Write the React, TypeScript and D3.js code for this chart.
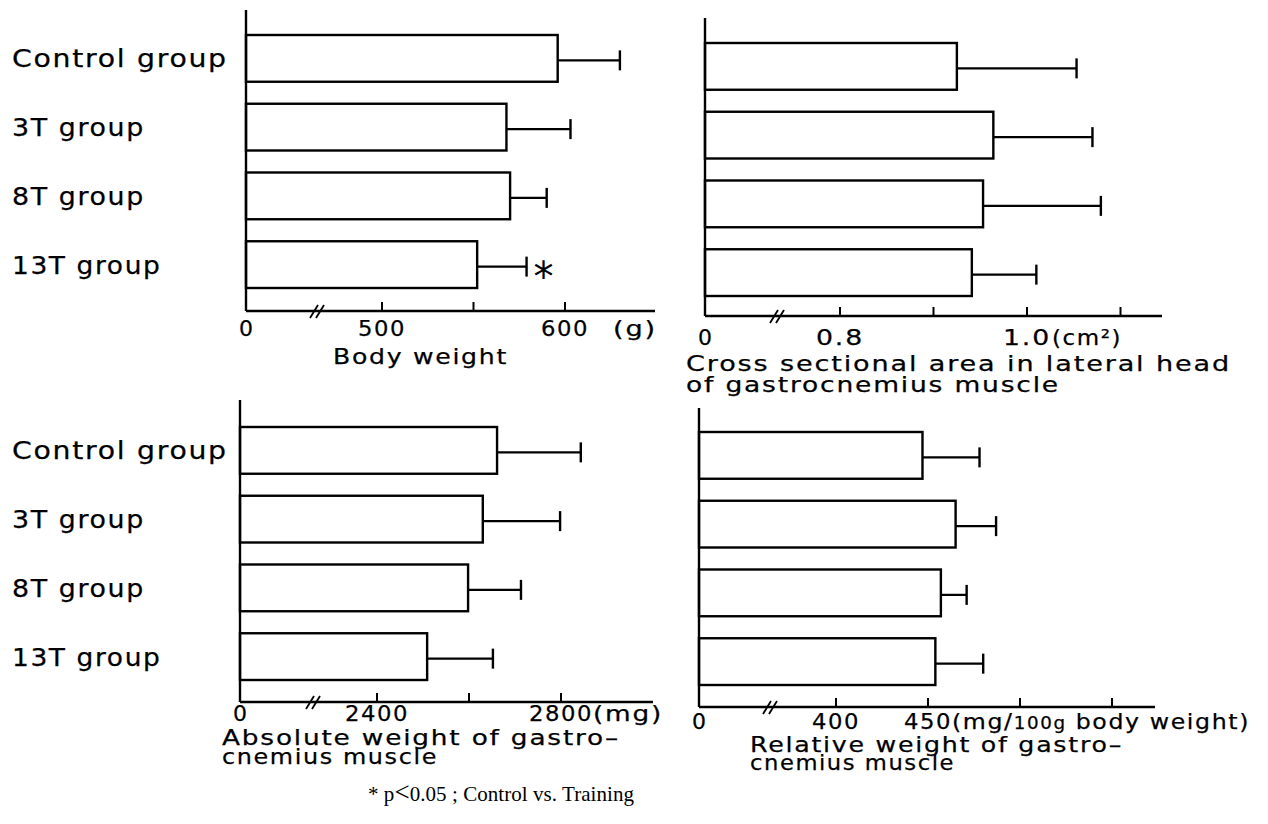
import React, { useRef, useEffect } from 'react'
import * as d3 from 'd3'

// groups shown on the vertical axis
const groups = ['Control group', '3T group', '8T group', '13T group']

// body weight (g)
const bodyWeightMean = [596, 568, 570, 552]
const bodyWeightSd = [34, 35, 20, 27]
const bodyWeightSignif = [false, false, false, true]
const bodyWeightTicks = [500, 550, 600]
const bodyWeightTickLabels = ['500', '', '600']

// cross sectional area, lateral head of gastrocnemius (cm2)
const csaMean = [0.925, 0.964, 0.953, 0.941]
const csaSd = [0.128, 0.106, 0.126, 0.069]
const csaTicks = [0.8, 0.9, 1.0, 1.1]
const csaTickLabels = ['0.8', '', '1.0', '']

// absolute weight of gastrocnemius (mg)
const absWeightMean = [2661, 2630, 2598, 2509]
const absWeightSd = [182, 168, 115, 143]
const absWeightTicks = [2400, 2600, 2800]
const absWeightTickLabels = ['2400', '', '2800']

// relative weight of gastrocnemius (mg/100g body weight)
const relWeightMean = [447, 465, 457, 454]
const relWeightSd = [31, 22, 14, 26]
const relWeightTicks = [400, 450, 500, 550]
const relWeightTickLabels = ['400', '450', '', '']

const SANS = '"DejaVu Sans", "Liberation Sans", Arial, sans-serif'
const SERIF = '"Liberation Serif", "Times New Roman", serif'

const panels = [
  {
    mean: bodyWeightMean, sd: bodyWeightSd, signif: bodyWeightSignif,
    ticks: bodyWeightTicks, tickLabels: bodyWeightTickLabels,
    domain: [500, 600], range: [382, 565],
    axisX: 246, axisTop: 10, axisY: 311, axisEnd: 655, breakX: 317,
    band: [24, 299], showGroups: true, tickLabelY: 336,
    unit: { text: '(g)', x: 613, w: 44 },
    title: [{ text: 'Body weight', x: 333, y: 364, w: 175 }],
  },
  {
    mean: csaMean, sd: csaSd, signif: null,
    ticks: csaTicks, tickLabels: csaTickLabels,
    domain: [0.8, 1.0], range: [840, 1027],
    axisX: 705, axisTop: 18, axisY: 316, axisEnd: 1162, breakX: 777,
    band: [32, 307], showGroups: false, tickLabelY: 345,
    unit: { text: '(cm²)', x: 1052, w: 70 },
    title: [
      { text: 'Cross sectional area in lateral head', x: 686, y: 371, w: 545 },
      { text: 'of gastrocnemius muscle', x: 686, y: 392, w: 374 },
    ],
  },
  {
    mean: absWeightMean, sd: absWeightSd, signif: null,
    ticks: absWeightTicks, tickLabels: absWeightTickLabels,
    domain: [2400, 2800], range: [377, 561],
    axisX: 240, axisTop: 400, axisY: 702, axisEnd: 653, breakX: 313,
    band: [416, 691], showGroups: true, tickLabelY: 721,
    unit: { text: '(mg)', x: 593, w: 70 },
    title: [
      { text: 'Absolute weight of gastro–', x: 222, y: 745, w: 398 },
      { text: 'cnemius muscle', x: 222, y: 764, w: 216 },
    ],
  },
  {
    mean: relWeightMean, sd: relWeightSd, signif: null,
    ticks: relWeightTicks, tickLabels: relWeightTickLabels,
    domain: [400, 450], range: [836, 928],
    axisX: 699, axisTop: 408, axisY: 707, axisEnd: 1155, breakX: 770,
    band: [421, 696], showGroups: false, tickLabelY: 729,
    unit: { text: '(mg/100g body weight)', x: 952, w: 298, small: '100g' },
    title: [
      { text: 'Relative weight of gastro–', x: 750, y: 752, w: 373 },
      { text: 'cnemius muscle', x: 750, y: 770, w: 205 },
    ],
  },
]

// wide, tracked lettering like the typeset original
const label = (sel, size, width) =>
  sel
    .attr('font-family', SANS)
    .attr('font-size', size)
    .attr('letter-spacing', 1.5)
    .attr('stroke', 'black')
    .attr('stroke-width', 0.25)
    .attr('textLength', width)
    .attr('lengthAdjust', 'spacingAndGlyphs')

const App = () => {
  const svgRef = useRef(null)

  useEffect(() => {
    const svg = d3.select(svgRef.current)
    svg.selectAll('*').remove()

    panels.forEach((p) => {
      const g = svg.append('g')
      const x = d3.scaleLinear().domain(p.domain).range(p.range)
      const y = d3
        .scaleBand()
        .domain(groups)
        .range(p.band)
        .paddingInner(0.32)
        .paddingOuter(0.16)

      // bars
      g.selectAll('rect.bar')
        .data(groups)
        .enter()
        .append('rect')
        .attr('x', p.axisX)
        .attr('y', (d) => y(d))
        .attr('width', (d, i) => x(p.mean[i]) - p.axisX)
        .attr('height', y.bandwidth())
        .attr('fill', 'white')
        .attr('stroke', 'black')
        .attr('stroke-width', 2.4)

      // error bars
      groups.forEach((d, i) => {
        const cy = y(d) + y.bandwidth() / 2 + 2
        const x0 = x(p.mean[i])
        const x1 = x(p.mean[i] + p.sd[i])
        g.append('line')
          .attr('x1', x0).attr('x2', x1).attr('y1', cy).attr('y2', cy)
          .attr('stroke', 'black').attr('stroke-width', 2.2)
        g.append('line')
          .attr('x1', x1).attr('x2', x1).attr('y1', cy - 10).attr('y2', cy + 10)
          .attr('stroke', 'black').attr('stroke-width', 2.4)
        if (p.signif && p.signif[i]) {
          g.append('text')
            .attr('x', x1 + 7)
            .attr('y', cy + 24)
            .attr('font-family', SANS)
            .attr('font-size', 40)
            .text('*')
        }
      })

      // axes
      g.append('line')
        .attr('x1', p.axisX).attr('x2', p.axisX)
        .attr('y1', p.axisTop).attr('y2', p.axisY)
        .attr('stroke', 'black').attr('stroke-width', 2.4)
      g.append('line')
        .attr('x1', p.axisX).attr('x2', p.axisEnd)
        .attr('y1', p.axisY).attr('y2', p.axisY)
        .attr('stroke', 'black').attr('stroke-width', 2.4)

      g.selectAll('line.tick')
        .data(p.ticks)
        .enter()
        .append('line')
        .attr('x1', (d) => x(d)).attr('x2', (d) => x(d))
        .attr('y1', p.axisY - 9).attr('y2', p.axisY)
        .attr('stroke', 'black').attr('stroke-width', 2)

      // axis break
      ;[0, 6].forEach((o) => {
        g.append('line')
          .attr('x1', p.breakX - 7 + o).attr('y1', p.axisY + 7)
          .attr('x2', p.breakX + 1 + o).attr('y2', p.axisY - 6)
          .attr('stroke', 'black').attr('stroke-width', 1.8)
      })

      // tick labels
      g.append('text')
        .attr('x', p.axisX).attr('y', p.tickLabelY)
        .attr('text-anchor', 'middle')
        .attr('font-family', SANS)
        .attr('font-size', 22)
        .attr('stroke', 'black')
        .attr('stroke-width', 0.25)
        .text('0')
      p.ticks.forEach((t, i) => {
        const s = p.tickLabels[i]
        if (!s) return
        g.append('text')
          .attr('x', x(t) - (s.length * 16) / 2).attr('y', p.tickLabelY)
          .call(label, 22, s.length * 16)
          .text(s)
      })
      const u = g.append('text')
        .attr('x', p.unit.x).attr('y', p.tickLabelY)
        .call(label, 22, p.unit.w)
      if (p.unit.small) {
        const [a, b] = p.unit.text.split(p.unit.small)
        u.append('tspan').text(a)
        u.append('tspan').attr('font-size', 17).text(p.unit.small)
        u.append('tspan').text(b)
      } else {
        u.text(p.unit.text)
      }

      // titles
      p.title.forEach((t) => {
        g.append('text')
          .attr('x', t.x).attr('y', t.y)
          .call(label, 22, t.w)
          .text(t.text)
      })

      // group labels
      if (p.showGroups) {
        g.selectAll('text.group')
          .data(groups)
          .enter()
          .append('text')
          .attr('x', 12)
          .attr('y', (d) => y(d) + y.bandwidth() / 2 + 9)
          .each(function (d) {
            d3.select(this).call(label, 25, d.length * 16.6)
          })
          .text((d) => d)
      }
    })

    // footnote
    const note = svg.append('text')
      .attr('x', 368)
      .attr('y', 801)
      .attr('font-family', SERIF)
      .attr('font-size', 21)
      .attr('textLength', 266)
      .attr('lengthAdjust', 'spacing')
    note.append('tspan').text('* p')
    note.append('tspan').attr('font-size', 27).text('<')
    note.append('tspan').text('0.05 ; Control vs. Training')
  }, [])

  return (
    <svg
      ref={svgRef}
      width={1268}
      height={824}
      style={{ position: 'absolute', left: 0, top: 0, background: 'white' }}
    />
  )
}

export default App
